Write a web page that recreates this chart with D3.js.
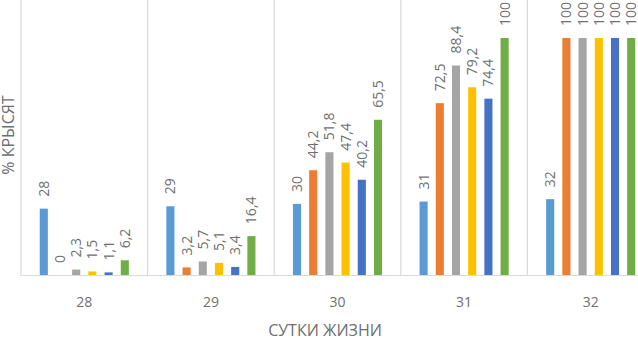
<!DOCTYPE html>
<html>
<head>
<meta charset="utf-8">
<script src="https://cdn.jsdelivr.net/npm/d3@7"></script>
<style>
  html, body { margin: 0; padding: 0; background: #fff; overflow: hidden; }
  svg { display: block; font-family: 'Open Sans', sans-serif; }
</style>
</head>
<body>
<svg id="chart" width="638" height="338"></svg>
<script>
const days = ['28', '29', '30', '31', '32'];
const seriesNames = ['s1', 's2', 's3', 's4', 's5', 's6'];
const s1 = [28, 29, 30, 31, 32];
const s2 = [0, 3.2, 44.2, 72.5, 100];
const s3 = [2.3, 5.7, 51.8, 88.4, 100];
const s4 = [1.5, 5.1, 47.4, 79.2, 100];
const s5 = [1.1, 3.4, 40.2, 74.4, 100];
const s6 = [6.2, 16.4, 65.5, 100, 100];
const colors = ['#5B9BD5', '#ED7D31', '#A5A5A5', '#FFC000', '#4472C4', '#70AD47'];

const allSeries = [s1, s2, s3, s4, s5, s6];
const rows = days.map((d, i) => ({
  day: d,
  values: allSeries.map((s, k) => ({ key: seriesNames[k], value: s[i], color: colors[k] }))
}));

const svg = d3.select('#chart');
const left = 21;
const baseY = 275;
const topY = 38;
const bandW = 126.6;

const x0 = d3.scaleBand()
  .domain(days)
  .range([left, left + bandW * days.length])
  .padding(0);

const x1 = d3.scaleBand()
  .domain(seriesNames)
  .range([0, x0.bandwidth()])
  .paddingInner(0.5)
  .paddingOuter(1.157);

const y = d3.scaleLinear()
  .domain([0, 100])
  .range([baseY, topY]);

const fmt = v => String(v).replace('.', ',');

// vertical separators between categories
const bounds = days.map(d => x0(d)).concat([x0.range()[1]]);
svg.append('g')
  .selectAll('line')
  .data(bounds)
  .join('line')
  .attr('x1', d => d)
  .attr('x2', d => d)
  .attr('y1', 0)
  .attr('y2', baseY + 1)
  .attr('stroke', '#d9d9d9')
  .attr('stroke-width', 1.2);

// bars
const groups = svg.append('g')
  .selectAll('g')
  .data(rows)
  .join('g')
  .attr('transform', d => `translate(${x0(d.day)},0)`);

groups.selectAll('rect')
  .data(d => d.values)
  .join('rect')
  .attr('x', d => x1(d.key))
  .attr('y', d => y(d.value))
  .attr('width', x1.bandwidth())
  .attr('height', d => baseY - y(d.value))
  .attr('fill', d => d.color);

// rotated data labels
groups.selectAll('text')
  .data(d => d.values)
  .join('text')
  .attr('transform', d => `translate(${x1(d.key) + x1.bandwidth() / 2},${y(d.value) - 12}) rotate(-90)`)
  .attr('text-anchor', 'start')
  .attr('dy', '0.35em')
  .attr('font-size', '14px')
  .attr('fill', '#6f6f6f')
  .text(d => fmt(d.value));

// baseline
const xAxis = d3.axisBottom(x0).tickSize(0).tickPadding(22);
const axisG = svg.append('g')
  .attr('transform', `translate(0,${baseY})`)
  .call(xAxis);
axisG.select('.domain')
  .attr('stroke', '#d9d9d9')
  .attr('stroke-width', 1.2);
axisG.selectAll('text')
  .attr('font-family', "'Open Sans', sans-serif")
  .attr('font-size', '14px')
  .attr('fill', '#6f6f6f');

// axis titles
svg.append('text')
  .attr('x', 325)
  .attr('y', 336)
  .attr('text-anchor', 'middle')
  .attr('font-size', '16px')
  .attr('fill', '#6f6f6f')
  .text('СУТКИ ЖИЗНИ');

svg.append('text')
  .attr('transform', 'translate(14,135) rotate(-90)')
  .attr('text-anchor', 'middle')
  .attr('font-size', '16px')
  .attr('fill', '#6f6f6f')
  .text('% КРЫСЯТ');
</script>
</body>
</html>
